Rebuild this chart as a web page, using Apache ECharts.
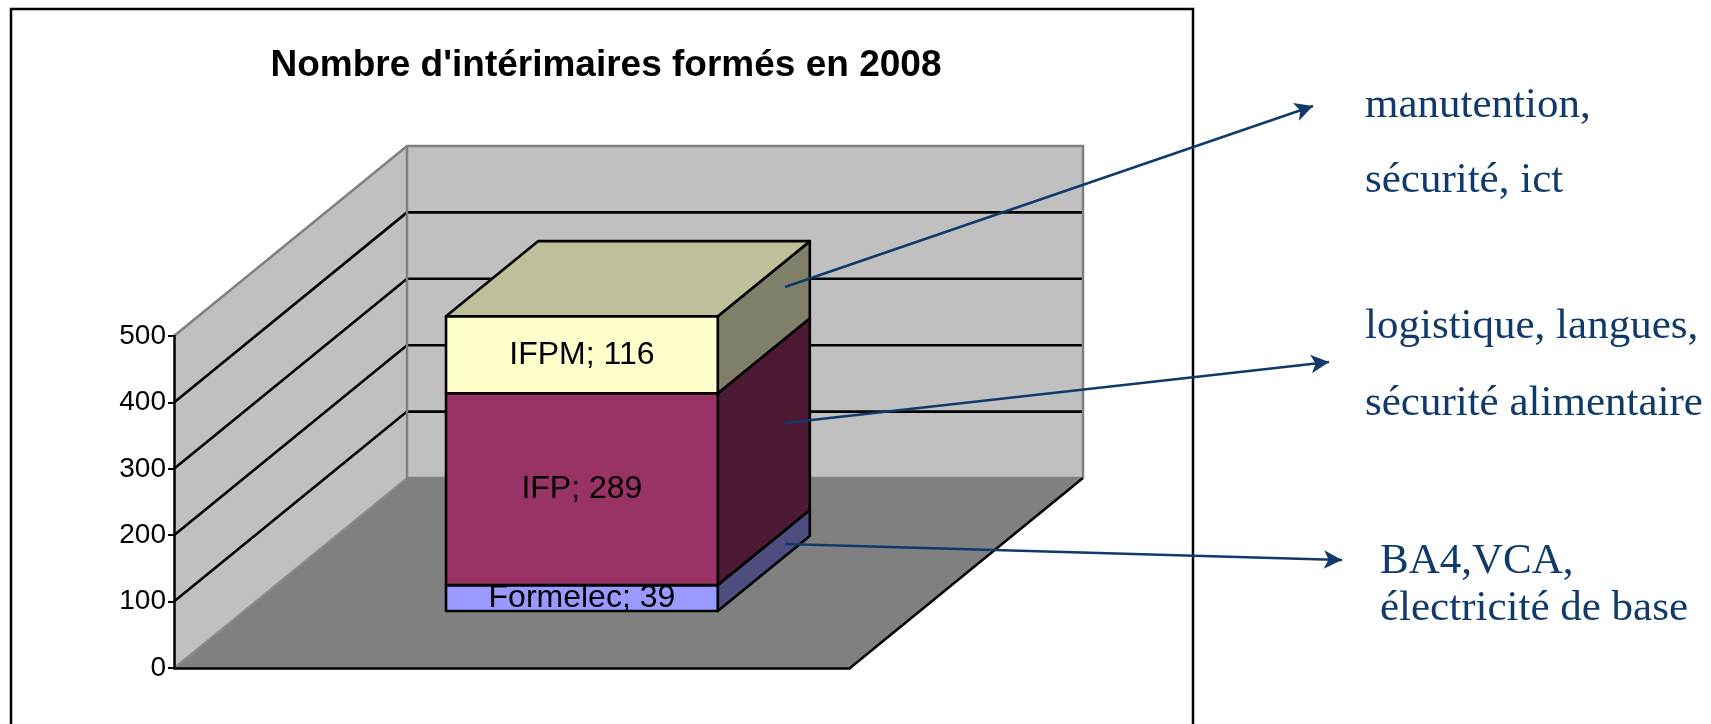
<!DOCTYPE html>
<html>
<head>
<meta charset="utf-8">
<title>Nombre d'intérimaires formés en 2008</title>
<script src="https://cdn.jsdelivr.net/npm/echarts@6/dist/echarts.min.js"></script>
<style>
  html, body { margin: 0; padding: 0; background: #fff; }
  #main { width: 1711px; height: 724px; }
</style>
</head>
<body>
<div id="main"></div>
<script>
// données du graphique
const titre = "Nombre d'intérimaires formés en 2008"
const categories = ['2008']
const organismes = ['Formelec', 'IFP', 'IFPM']
const valeurs = [39, 289, 116]
const yTicks = [0, 100, 200, 300, 400, 500]
const notes = [
  ['manutention,', 'sécurité, ict'],
  ['logistique, langues,', 'sécurité alimentaire'],
  ['BA4,VCA,', 'électricité de base']
]

// style / mise en page
const faceColors = ['#9999ff', '#993366', '#ffffcc']
const sideColors = ['#4d4d80', '#4d1a33', '#80806a']
const topColor = '#bfbf99'
const depthX = 233, depthY = -190     // profondeur 3D du plancher
const barFront = 0.30, barBack = 0.695 // position de la barre dans la profondeur
const barRatio = 0.402
const navy = '#0f3a6b'

const chart = echarts.init(document.getElementById('main'))

// segments empilés [cat, debut, fin]
let cumul = 0
const segments = valeurs.map(v => {
  const s = [0, cumul, cumul + v]
  cumul += v
  return s
})

const renderWalls = (params, api) => {
  const cs = params.coordSys
  const L = cs.x, R = cs.x + cs.width
  const y0 = api.coord([0, yTicks[0]])[1]
  const yMax = api.coord([0, yTicks[yTicks.length - 1]])[1]
  const children = [
    { type: 'polygon', shape: { points: [[L, y0], [L, yMax], [L + depthX, yMax + depthY], [L + depthX, y0 + depthY]] }, style: { fill: '#c0c0c0' } },
    { type: 'polygon', shape: { points: [[L + depthX, yMax + depthY], [R + depthX, yMax + depthY], [R + depthX, y0 + depthY], [L + depthX, y0 + depthY]] }, style: { fill: '#c0c0c0' } },
    { type: 'polygon', shape: { points: [[L, y0], [R, y0], [R + depthX, y0 + depthY], [L + depthX, y0 + depthY]] }, style: { fill: '#808080' } }
  ]
  yTicks.slice(1, -1).forEach(t => {
    const y = api.coord([0, t])[1]
    children.push({ type: 'polyline', shape: { points: [[L, y], [L + depthX, y + depthY], [R + depthX, y + depthY]] }, style: { stroke: '#000', lineWidth: 2.6, fill: null } })
  })
  const gray = { stroke: '#808080', lineWidth: 2.5, fill: null }
  children.push({ type: 'polyline', shape: { points: [[L, yMax], [L + depthX, yMax + depthY], [R + depthX, yMax + depthY], [R + depthX, y0 + depthY]] }, style: gray })
  children.push({ type: 'polyline', shape: { points: [[L + depthX, yMax + depthY], [L + depthX, y0 + depthY], [R + depthX, y0 + depthY]] }, style: gray })
  children.push({ type: 'line', shape: { x1: L, y1: y0, x2: L + depthX, y2: y0 + depthY }, style: { stroke: '#8c8c8c', lineWidth: 2 } })
  children.push({ type: 'line', shape: { x1: R, y1: y0, x2: R + depthX, y2: y0 + depthY }, style: { stroke: '#000', lineWidth: 2.5 } })
  return { type: 'group', children }
}

const renderBar = (params, api) => {
  const i = params.dataIndex
  const pA = api.coord([api.value(0), api.value(1)])
  const pB = api.coord([api.value(0), api.value(2)])
  const w = api.size([1, 0])[0] * barRatio
  const fx0 = pA[0] - w / 2 + depthX * barFront
  const fx1 = fx0 + w
  const fyB = pA[1] + depthY * barFront
  const fyT = pB[1] + depthY * barFront
  const dx = depthX * (barBack - barFront), dy = depthY * (barBack - barFront)
  const edge = { stroke: '#000', lineWidth: 2.6, lineJoin: 'round' }
  const children = [
    { type: 'polygon', shape: { points: [[fx1, fyB], [fx1 + dx, fyB + dy], [fx1 + dx, fyT + dy], [fx1, fyT]] }, style: Object.assign({ fill: sideColors[i] }, edge) },
    { type: 'polygon', shape: { points: [[fx0, fyB], [fx1, fyB], [fx1, fyT], [fx0, fyT]] }, style: Object.assign({ fill: faceColors[i] }, edge) }
  ]
  if (i === valeurs.length - 1) {
    children.push({ type: 'polygon', shape: { points: [[fx0, fyT], [fx1, fyT], [fx1 + dx, fyT + dy], [fx0 + dx, fyT + dy]] }, style: Object.assign({ fill: topColor }, edge) })
  }
  children.push({
    type: 'text',
    style: {
      text: organismes[i] + '; ' + valeurs[i],
      x: (fx0 + fx1) / 2, y: (fyB + fyT) / 2,
      align: 'center', verticalAlign: 'middle',
      font: '32px "Liberation Sans", Arial, sans-serif', fill: '#000'
    }
  })
  return { type: 'group', children }
}

// textes de droite
const noteX = [1365, 1365, 1380]
const noteY = [[120, 195], [341, 418], [576, 623]]
const noteTexts = []
notes.forEach((lignes, b) => {
  lignes.forEach((txt, l) => {
    noteTexts.push({
      type: 'text',
      style: {
        text: txt, x: noteX[b], y: noteY[b][l] - 14,
        align: 'left', verticalAlign: 'middle',
        textAlign: 'left', textVerticalAlign: 'middle',
        font: '43px "Liberation Serif", "Times New Roman", serif', fill: navy
      }
    })
  })
})

const option = {
  animation: false,
  title: {
    text: titre, left: 601, top: 42, textAlign: 'center',
    textStyle: { fontFamily: 'Liberation Sans', fontSize: 37, fontWeight: 'bold', color: '#000' }
  },
  grid: { left: 174, right: 861, top: 336, bottom: 56 },
  xAxis: {
    type: 'category', data: categories, z: 5,
    axisLine: { lineStyle: { color: '#000', width: 2.5 } },
    axisTick: { show: false }, axisLabel: { show: false }
  },
  yAxis: {
    type: 'value', min: 0, max: 500, interval: 100, z: 5,
    axisLine: { show: true, lineStyle: { color: '#000', width: 2.5 } },
    axisTick: { show: true, length: 6, lineStyle: { color: '#000', width: 2 } },
    axisLabel: { fontFamily: '"Liberation Sans Narrow", "Liberation Sans"', fontSize: 28, color: '#000', margin: 8 },
    splitLine: { show: false }
  },
  graphic: [
    { type: 'rect', shape: { x: 11, y: 9, width: 1182, height: 760 }, style: { fill: 'none', stroke: '#000', lineWidth: 2.5 } }
  ].concat(noteTexts),
  series: [
    {
      type: 'custom', name: 'murs', z: 1, silent: true,
      data: [[0, 0]], encode: { x: 0, y: 1 },
      renderItem: renderWalls
    },
    {
      type: 'custom', name: 'formations', z: 2, silent: true,
      data: segments, encode: { x: 0, y: [1, 2] },
      renderItem: renderBar,
      markLine: {
        silent: true, symbol: ['none', 'arrow'], symbolSize: [14, 18],
        label: { show: false },
        lineStyle: { color: navy, width: 2.5, type: 'solid' },
        data: [
          [{ x: 785, y: 287 }, { x: 1313, y: 106 }],
          [{ x: 785, y: 423 }, { x: 1329, y: 362 }],
          [{ x: 785, y: 544 }, { x: 1342, y: 560 }]
        ]
      }
    }
  ]
}

chart.setOption(option)
</script>
</body>
</html>
